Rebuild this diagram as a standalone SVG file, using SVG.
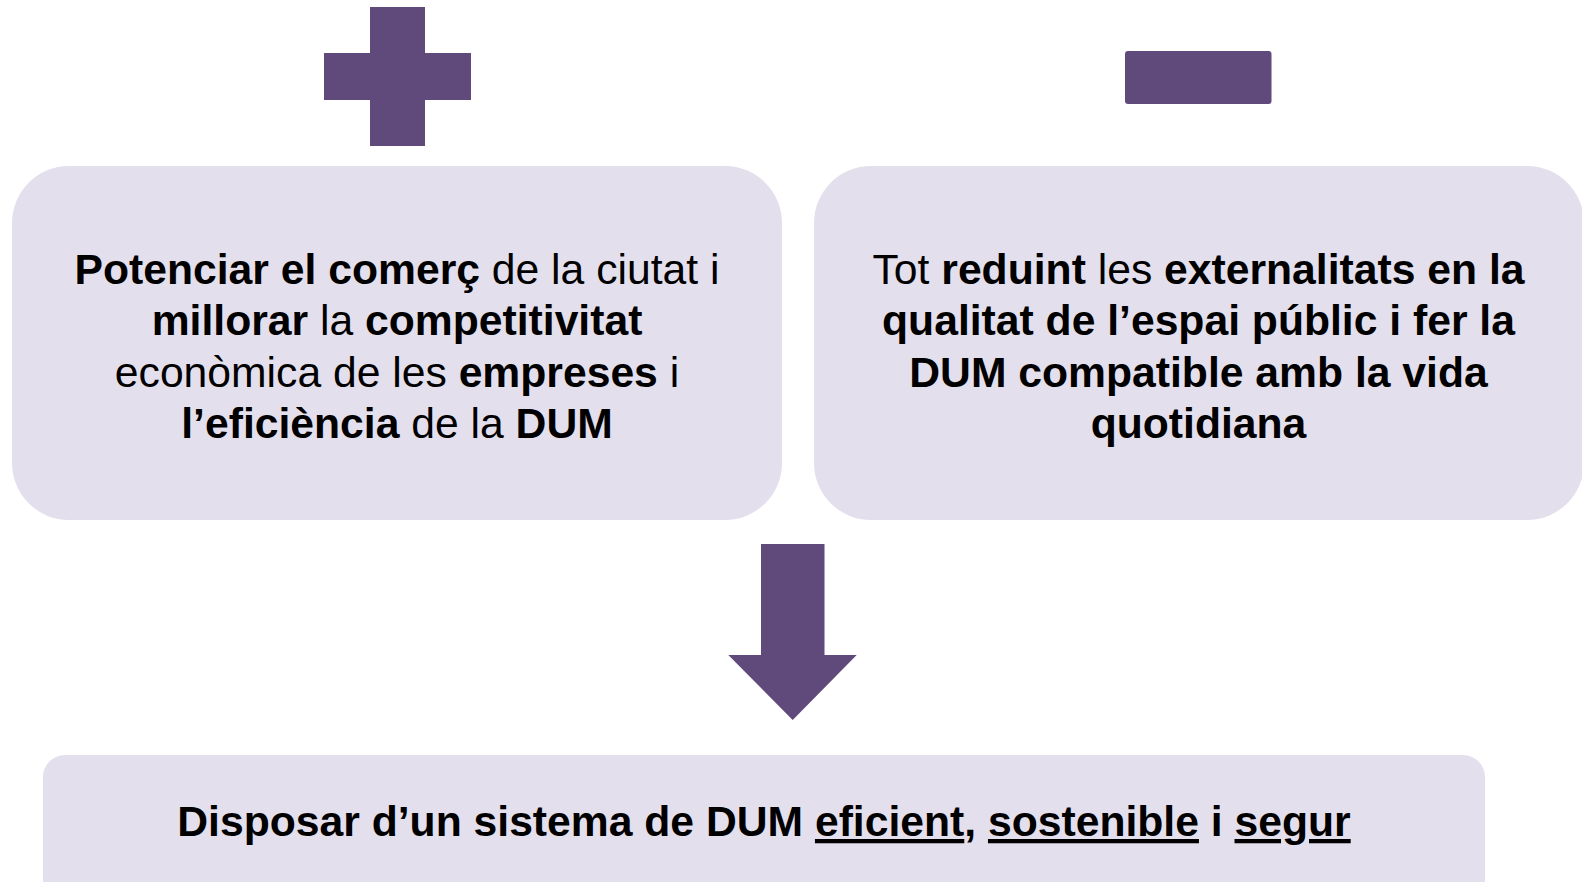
<svg xmlns="http://www.w3.org/2000/svg" width="1582" height="882" viewBox="0 0 1582 882">
  <style>
    .box { fill: #E4DFEC; }
    .mark { fill: #604A7B; }
    .t { font-family: "Liberation Sans", Arial, sans-serif; font-size: 42.67px; fill: #000000; text-anchor: middle; }
    .b { font-weight: bold; }
    .u { text-decoration: underline; }
  </style>
  <rect width="1582" height="882" fill="#FFFFFF"/>

  <g id="plus-sign">
    <rect class="mark" x="370" y="7" width="55" height="139"/>
    <rect class="mark" x="324" y="53" width="147" height="47"/>
  </g>

  <g id="minus-sign">
    <rect class="mark" x="1125" y="51" width="146.5" height="53" rx="3"/>
  </g>

  <g id="node-left">
    <rect class="box" x="12" y="166" width="770" height="354" rx="57"/>
    <text class="t" x="397" y="284"><tspan class="b">Potenciar el comerç</tspan> de la ciutat i</text>
    <text class="t" x="397" y="335.3"><tspan class="b">millorar</tspan> la <tspan class="b">competitivitat</tspan></text>
    <text class="t" x="397" y="386.6">econòmica de les <tspan class="b">empreses</tspan> i</text>
    <text class="t" x="397" y="437.9"><tspan class="b">l’eficiència</tspan> de la <tspan class="b">DUM</tspan></text>
  </g>

  <g id="node-right">
    <rect class="box" x="814" y="166" width="770" height="354" rx="57"/>
    <text class="t" x="1198.5" y="284">Tot <tspan class="b">reduint</tspan> les <tspan class="b">externalitats en la</tspan></text>
    <text class="t b" x="1198.5" y="335.3">qualitat de l’espai públic i fer la</text>
    <text class="t b" x="1198.5" y="386.6">DUM compatible amb la vida</text>
    <text class="t b" x="1198.5" y="437.9">quotidiana</text>
  </g>

  <g id="connectors">
    <polygon class="mark" points="761,544 824.5,544 824.5,655 856.7,655 792.7,720 728.3,655 761,655"/>
  </g>

  <g id="node-bottom">
    <rect class="box" x="43" y="755" width="1442" height="160" rx="22"/>
    <text class="t b" x="764" y="836">Disposar d’un sistema de DUM <tspan class="u">eficient</tspan>, <tspan class="u">sostenible</tspan> i <tspan class="u">segur</tspan></text>
  </g>
</svg>
